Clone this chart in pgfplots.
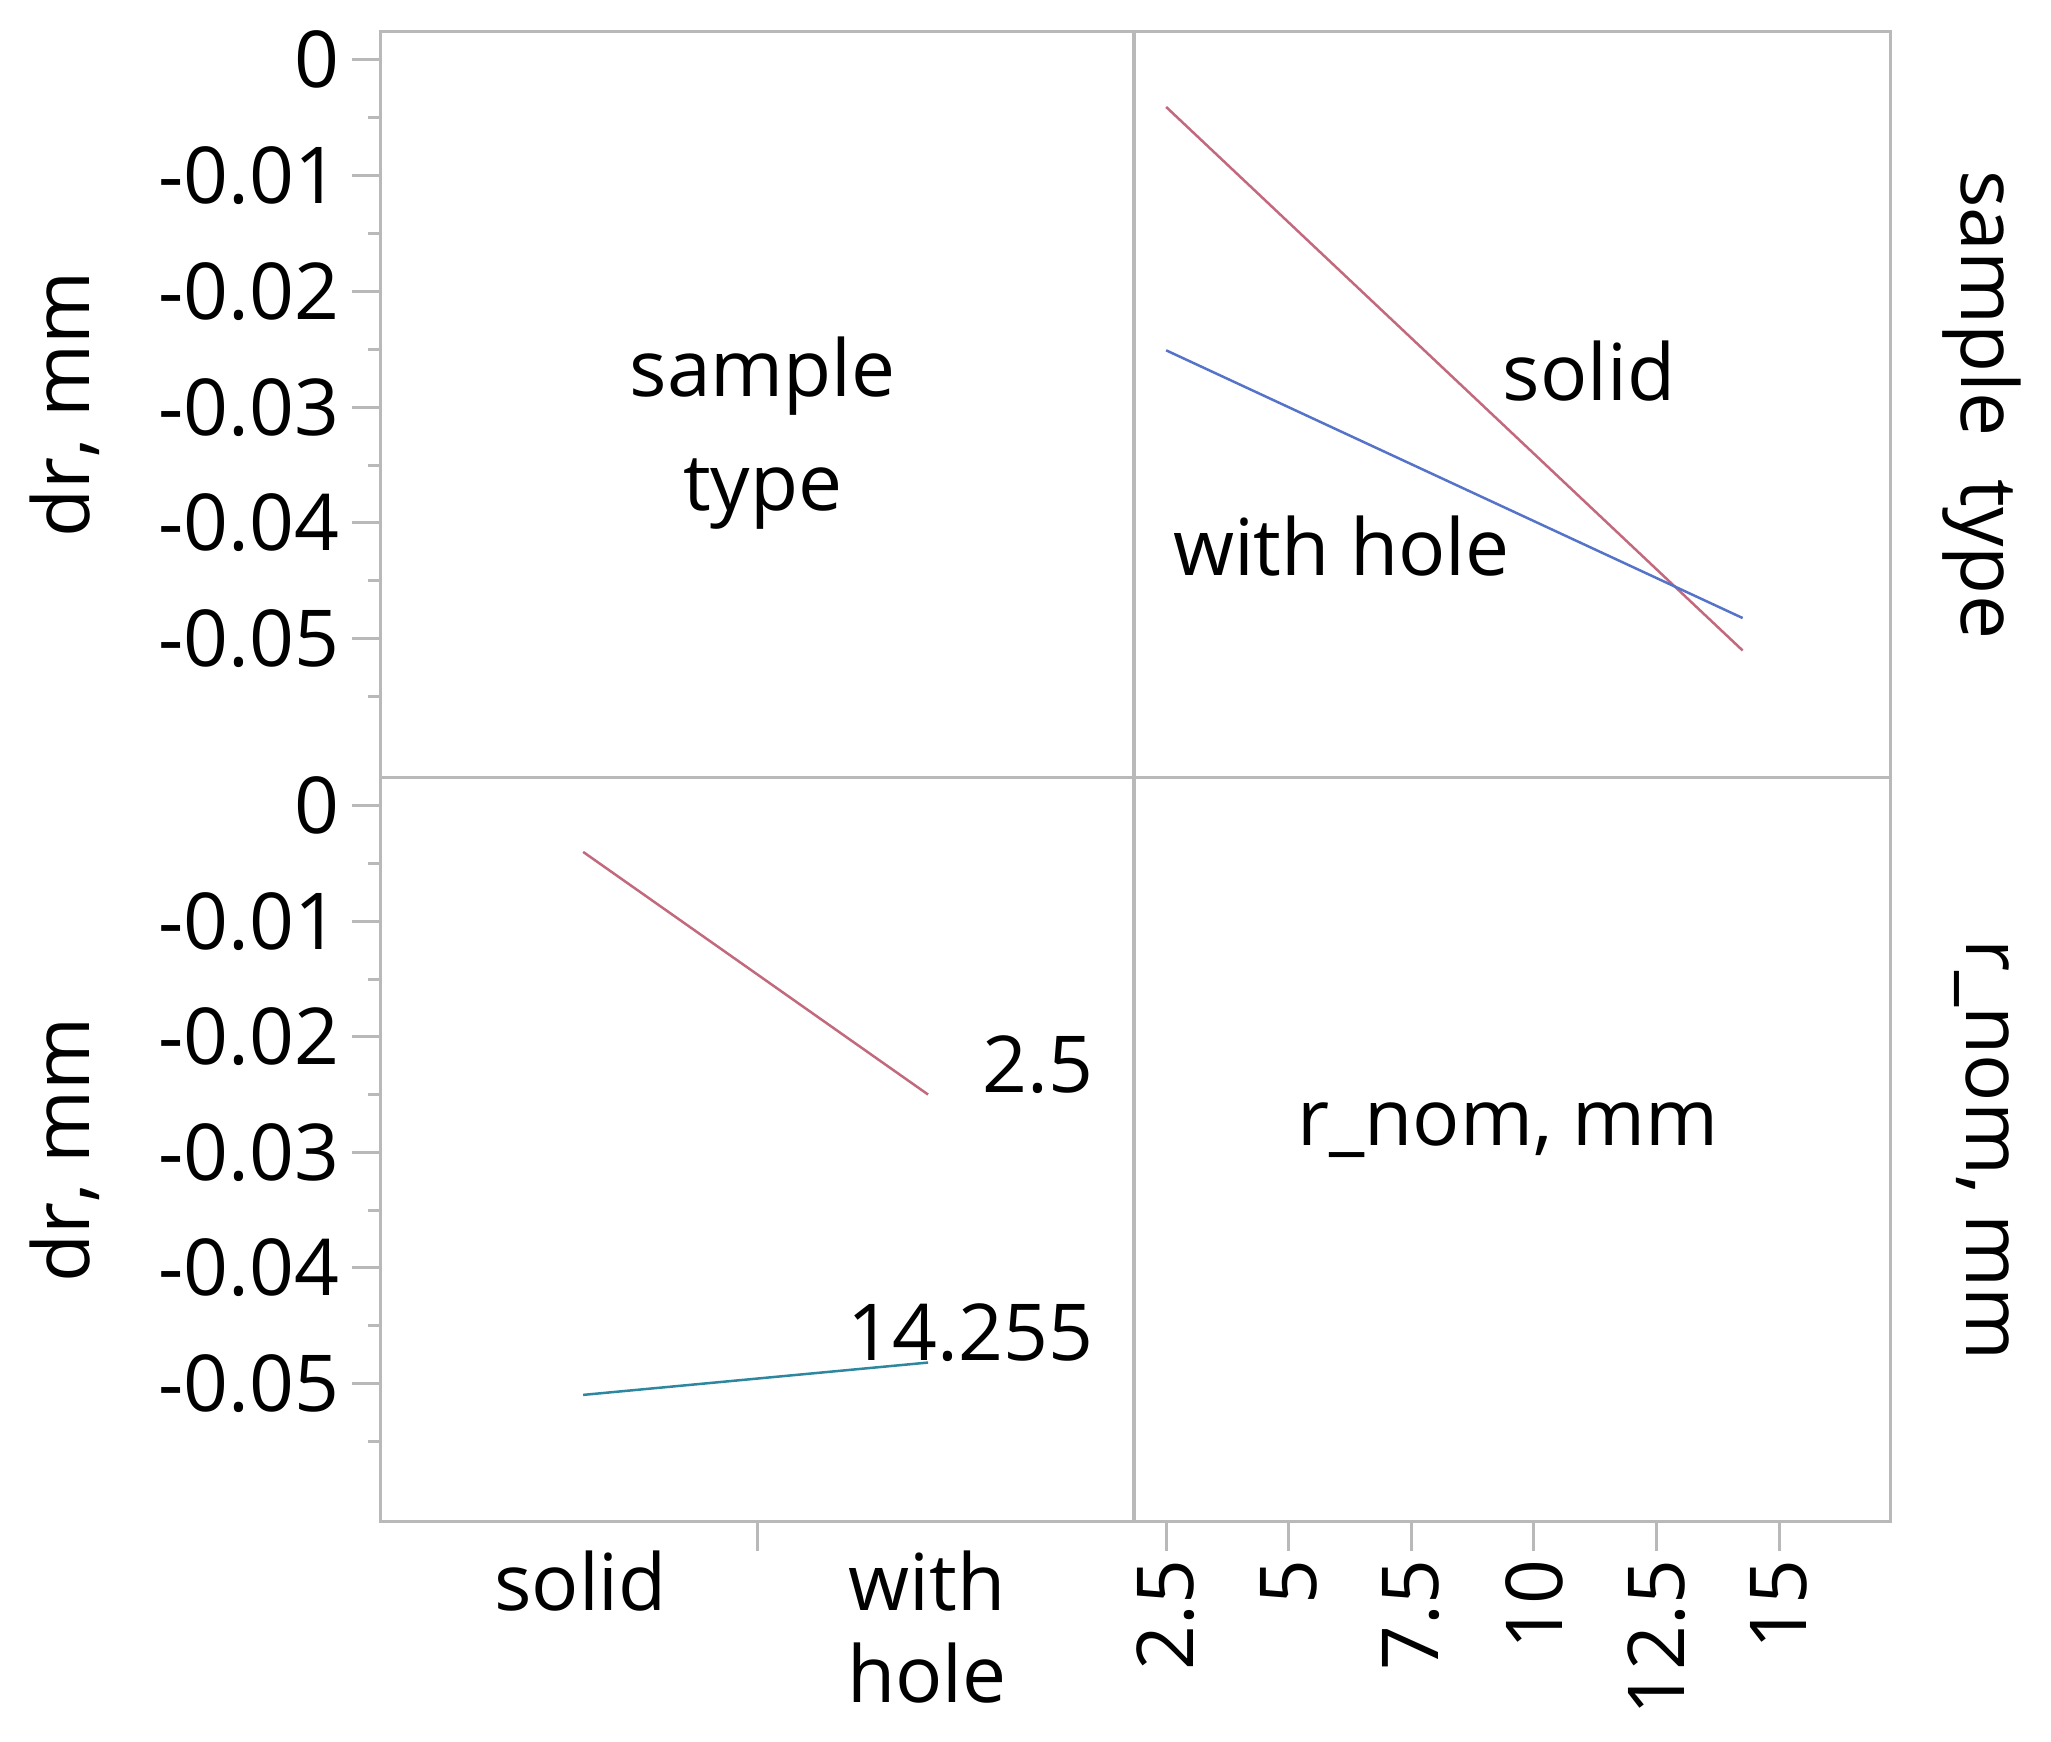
\documentclass[border=0pt]{standalone}
\usepackage{pgfplots}
\pgfplotsset{compat=1.18}
\usepackage{fontspec}
\setmainfont{Open Sans}

\definecolor{framegray}{RGB}{185,185,185}
\definecolor{lred}{RGB}{195,105,125}
\definecolor{lblue}{RGB}{85,115,200}
\definecolor{lteal}{RGB}{45,135,160}

\newcommand{\fnt}{\fontsize{15.7}{18.4}\selectfont}

\pgfplotsset{
  panel/.style={
    scale only axis, clip=false,
    ymin=-0.062, ymax=0.0024,
    scaled y ticks=false, scaled x ticks=false,
    axis line style={framegray, line width=0.6pt},
    tick style={framegray, line width=0.6pt},
    tick align=outside, tick pos=left,
    major tick length=5.8pt, minor tick length=2.6pt,
    ticklabel style={font=\fnt, inner sep=1.5pt},
    yticklabel style={inner sep=2.4pt},
    label style={font=\fnt},
    every axis plot/.append style={line width=0.5pt},
  },
  leftpanel/.style={
    xmin=0, xmax=2, width=150.6pt,
    ytick={0,-0.01,-0.02,-0.03,-0.04,-0.05},
    yticklabels={0,-0.01,-0.02,-0.03,-0.04,-0.05},
    minor ytick={-0.005,-0.015,-0.025,-0.035,-0.045,-0.055},
    ylabel={dr, mm},
    ylabel style={at={(axis description cs:-0.42,0.5)}, anchor=center},
  },
  rightpanel/.style={
    xmin=1.845, xmax=17.26, width=151.2pt, ytick=\empty,
  },
}

\begin{document}
\begin{tikzpicture}
\useasboundingbox (0pt,0pt) rectangle (410.2pt,348.4pt);

% top left: factor name
\begin{axis}[panel, leftpanel, at={(76.2pt,342.08pt)}, anchor=north west,
  height=149.28pt, xtick=\empty]
  \node[align=center, font=\fontsize{15.7}{22.8}\selectfont]
    at (rel axis cs:0.507,0.462) {sample\\type};
\end{axis}

% top right: dr vs r_nom, by sample type
\begin{axis}[panel, rightpanel, at={(226.8pt,342.08pt)}, anchor=north west,
  height=149.28pt, xtick=\empty]
  \addplot[lred] coordinates {(2.5,-0.0041) (14.255,-0.0510)};
  \addplot[lblue] coordinates {(2.5,-0.0251) (14.255,-0.0482)};
  \node[font=\fnt, inner sep=0pt, anchor=base west] at (axis cs:9.34,-0.0294) {solid};
  \node[font=\fnt, inner sep=0pt, anchor=base west] at (axis cs:2.62,-0.0445) {with hole};
  \node[font=\fnt, rotate=-90] at (rel axis cs:1.122,0.5) {sample\hspace{0.55em}type};
\end{axis}

% bottom left: dr vs sample type, by r_nom
\begin{axis}[panel, leftpanel, at={(76.2pt,192.8pt)}, anchor=north west,
  height=148.8pt,
  xtick={1}, xticklabels={},
  extra x ticks={0.53,1.45},
  extra x tick labels={solid,{with\\hole}},
  extra x tick style={major tick length=0pt},
  xticklabel style={align=center, font=\fnt, inner sep=5.5pt}]
  \addplot[lred] coordinates {(0.537,-0.0040) (1.453,-0.0250)};
  \addplot[lteal] coordinates {(0.537,-0.0510) (1.453,-0.0482)};
  \node[font=\fnt, inner sep=0pt, anchor=base east] at (axis cs:1.894,-0.0248) {2.5};
  \node[font=\fnt, inner sep=0pt, anchor=base east] at (axis cs:1.894,-0.0480) {14.255};
\end{axis}

% bottom right: factor name
\begin{axis}[panel, rightpanel, at={(226.8pt,192.8pt)}, anchor=north west,
  height=148.8pt,
  xtick={2.5,5,7.5,10,12.5,15},
  xticklabels={2.5,5,7.5,10,12.5,15},
  xticklabel style={rotate=90, anchor=east}]
  \node[font=\fnt] at (rel axis cs:0.495,0.527) {r\_nom, mm};
  \node[font=\fnt, rotate=-90] at (rel axis cs:1.122,0.5) {r\_nom, mm};
\end{axis}
\end{tikzpicture}
\end{document}
